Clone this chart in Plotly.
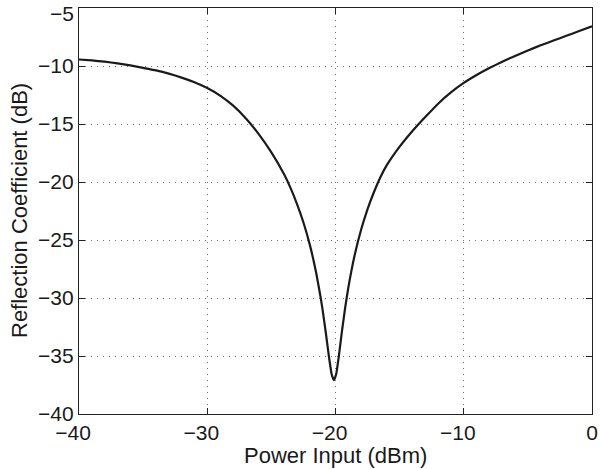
import plotly.graph_objects as go

power_dbm = [-40, -39, -38, -37, -36, -35, -34, -33, -32, -31, -30, -29, -28, -27, -26, -25,
             -24, -23.5, -23, -22.5, -22, -21.5, -21.16, -21.0, -20.75, -20.5, -20.3, -20.12,
             -19.95, -19.75, -19.5, -19.25, -19.0, -18.5, -18.0, -17.5, -17.0, -16.5, -16,
             -15, -14, -13.6, -13, -12, -11, -10, -9, -8, -7, -6, -5, -4, -3, -2, -1, 0]
refl_db = [-9.44, -9.52, -9.63, -9.77, -9.94, -10.16, -10.38, -10.66, -11.0, -11.4, -11.9,
           -12.55, -13.4, -14.5, -15.85, -17.45, -19.36, -20.53, -21.9, -23.49, -25.42, -27.87,
           -29.95, -31.07, -33.04, -35.15, -36.57, -37.08, -36.58, -35.1, -32.9, -30.86, -29.1,
           -26.27, -24.09, -22.33, -20.86, -19.59, -18.55, -16.95, -15.6, -15.1, -14.4, -13.25,
           -12.28, -11.46, -10.78, -10.18, -9.63, -9.13, -8.66, -8.22, -7.8, -7.4, -6.99, -6.57]

x_ticks = [-40, -30, -20, -10, 0]
y_ticks = [-40, -35, -30, -25, -20, -15, -10, -5]

FONT = "Liberation Sans, Arial, Helvetica, sans-serif"
TXT = "#1a1a1a"
TICK_SIZE = 21
TITLE_SIZE = 22


def minus(v):
    return str(v).replace("-", "\u2212")


def xlabel(v):
    # negative labels: digits centred on the tick, minus sign hanging to the left
    return minus(v) + ("\u2007" if v < 0 else "")


fig = go.Figure()
fig.add_trace(go.Scatter(x=power_dbm, y=refl_db, mode="lines",
                         line=dict(color="#1a1a1a", width=2.2, shape="spline", smoothing=0.4),
                         showlegend=False, hoverinfo="skip"))

axis_common = dict(showline=True, linecolor="#222", linewidth=1.3, mirror="ticks",
                   ticks="inside", ticklen=6, tickcolor="#222", tickwidth=1,
                   showgrid=True, gridcolor="#777", griddash="1px,5px", gridwidth=1,
                   zeroline=False, automargin=False, ticklabeloverflow="allow",
                   tickfont=dict(size=TICK_SIZE, color=TXT, family=FONT))

fig.update_xaxes(range=[-40, 0], tickvals=x_ticks, ticktext=[xlabel(v) for v in x_ticks],
                 **axis_common)
# top label (-5) is placed as an annotation so it stays inside the page, as in the reference
fig.update_yaxes(range=[-40, -5], tickvals=y_ticks,
                 ticktext=[minus(v) if v != y_ticks[-1] else "" for v in y_ticks],
                 **axis_common)

fig.update_layout(
    width=600, height=469, plot_bgcolor="white", paper_bgcolor="white",
    margin=dict(l=79, r=8, t=8, b=55),
    font=dict(family=FONT, color=TXT),
    annotations=[
        dict(text=minus(y_ticks[-1]), xref="paper", yref="y", x=0, y=y_ticks[-1],
             xanchor="right", yanchor="middle", xshift=-3, yshift=-5, showarrow=False,
             font=dict(size=TICK_SIZE, color=TXT, family=FONT)),
        dict(text="Power Input (dBm)", xref="paper", yref="paper", x=0.5, y=0,
             xanchor="center", yanchor="middle", yshift=-41, showarrow=False,
             font=dict(size=TITLE_SIZE, color=TXT, family=FONT)),
        dict(text="Reflection Coefficient (dB)", xref="paper", yref="paper", x=0, y=0.5,
             xanchor="center", yanchor="middle", xshift=-60, textangle=-90, showarrow=False,
             font=dict(size=TITLE_SIZE, color=TXT, family=FONT)),
    ],
)

fig.write_html("out.html", config={"displayModeBar": False},
               post_script="document.body.style.margin='0';document.body.style.overflow='hidden';")
